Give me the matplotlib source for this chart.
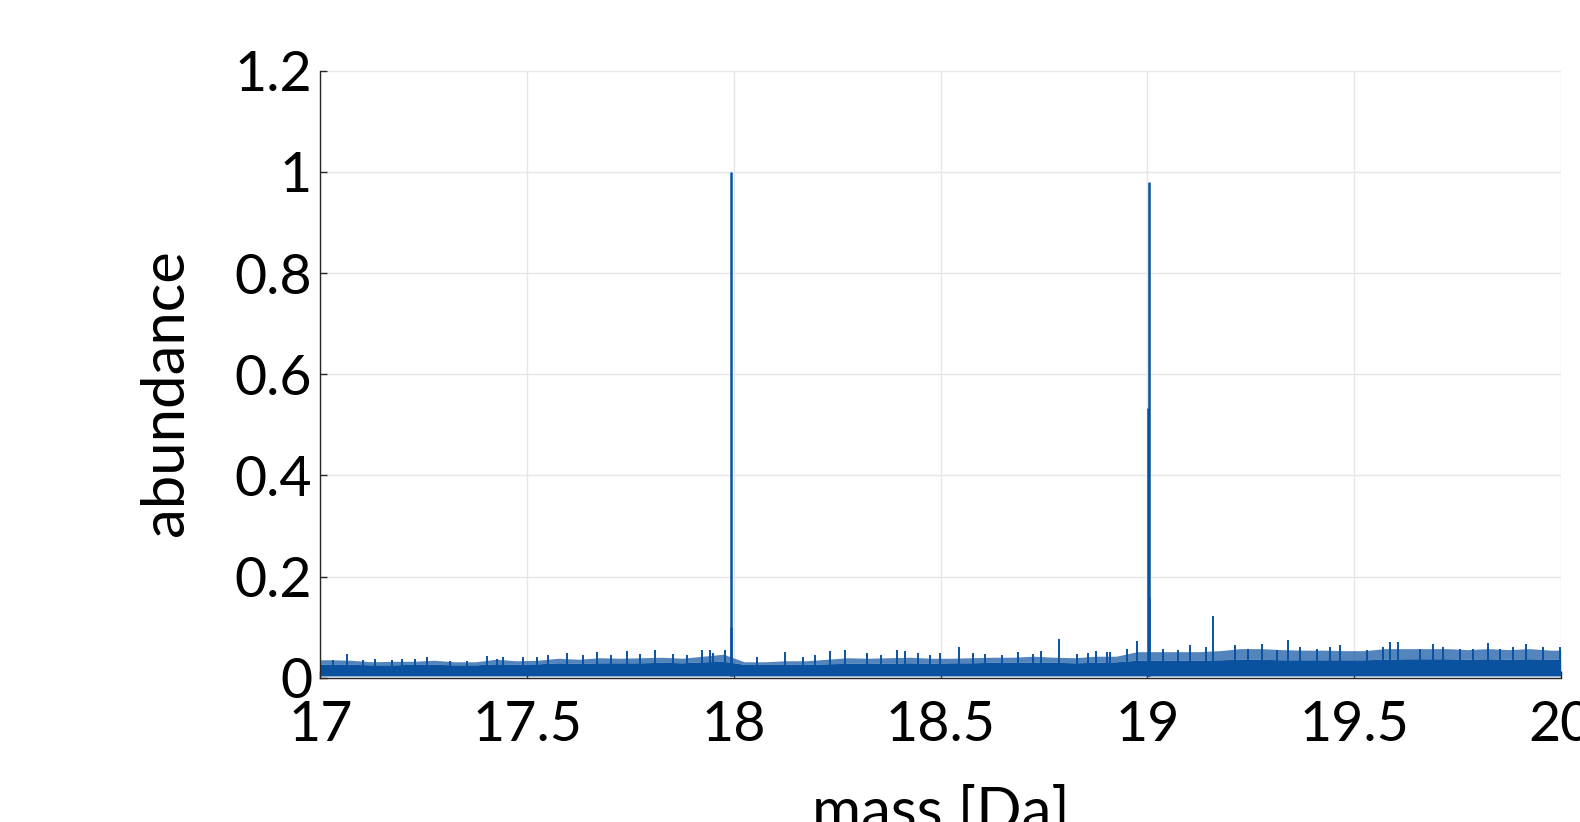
"""
Mass spectrum of the 17-20 Da window (water region)
"""

import matplotlib
matplotlib.use('Agg')
import matplotlib.pyplot as plt
import numpy as np

plt.rcParams['font.family'] = ['Lato', 'DejaVu Sans']

LINE_COLOR = '#0a52a0'

# tick labels
x_ticks = [17, 17.5, 18, 18.5, 19, 19.5, 20]
x_tick_labels = ['17', '17.5', '18', '18.5', '19', '19.5', '20']
y_ticks = [0, 0.2, 0.4, 0.6, 0.8, 1.0, 1.2]
y_tick_labels = ['0', '0.2', '0.4', '0.6', '0.8', '1', '1.2']

# background noise, one value per 0.05 Da bin from 17.00 to 20.00
noise_bin_start = 17.0
noise_bin_width = 0.05
noise_floor = 0.004
noise_core = [
    0.027, 0.027, 0.026, 0.026, 0.027, 0.027, 0.026, 0.026, 0.028, 0.027,
    0.028, 0.030, 0.029, 0.030, 0.030, 0.030, 0.031, 0.030, 0.032, 0.033,
    0.027, 0.027, 0.027, 0.027, 0.028, 0.029, 0.029, 0.029, 0.030, 0.029,
    0.030, 0.030, 0.031, 0.031, 0.031, 0.031, 0.030, 0.031, 0.032, 0.035,
    0.035, 0.035, 0.035, 0.036, 0.037, 0.037, 0.036, 0.036, 0.036, 0.036,
    0.036, 0.037, 0.038, 0.038, 0.038, 0.037, 0.038, 0.037, 0.038, 0.037,
]
noise_top = [
    0.036, 0.035, 0.032, 0.033, 0.033, 0.035, 0.032, 0.032, 0.037, 0.034,
    0.035, 0.039, 0.037, 0.040, 0.039, 0.040, 0.041, 0.039, 0.043, 0.047,
    0.032, 0.032, 0.034, 0.034, 0.037, 0.040, 0.039, 0.040, 0.041, 0.039,
    0.039, 0.040, 0.041, 0.041, 0.043, 0.041, 0.040, 0.043, 0.043, 0.052,
    0.052, 0.052, 0.052, 0.054, 0.058, 0.058, 0.056, 0.055, 0.055, 0.054,
    0.054, 0.058, 0.058, 0.058, 0.058, 0.056, 0.058, 0.056, 0.058, 0.055,
]

# noise spikes standing above the band
spike_mass = [
    17.031, 17.064, 17.104, 17.132, 17.172, 17.197, 17.229, 17.257, 17.313,
    17.354, 17.402, 17.426, 17.442, 17.490, 17.523, 17.551, 17.596, 17.636,
    17.668, 17.704, 17.741, 17.773, 17.809, 17.853, 17.886, 17.922, 17.942,
    17.950, 17.978, 18.055, 18.124, 18.168, 18.196, 18.233, 18.269, 18.321,
    18.357, 18.394, 18.414, 18.446, 18.474, 18.498, 18.545, 18.579, 18.607,
    18.648, 18.688, 18.724, 18.744, 18.786, 18.829, 18.857, 18.877, 18.902,
    18.910, 18.950, 18.974, 19.038, 19.075, 19.103, 19.143, 19.158, 19.212,
    19.244, 19.278, 19.313, 19.341, 19.369, 19.410, 19.442, 19.466, 19.531,
    19.571, 19.588, 19.607, 19.659, 19.691, 19.716, 19.757, 19.789, 19.824,
    19.853, 19.885, 19.917, 19.958, 19.998,
]
spike_height = [
    0.036, 0.047, 0.036, 0.037, 0.036, 0.037, 0.038, 0.041, 0.034,
    0.034, 0.043, 0.038, 0.041, 0.041, 0.041, 0.045, 0.049, 0.045,
    0.051, 0.045, 0.054, 0.047, 0.056, 0.047, 0.045, 0.055, 0.055,
    0.049, 0.056, 0.041, 0.052, 0.041, 0.045, 0.054, 0.055, 0.049,
    0.045, 0.056, 0.054, 0.049, 0.045, 0.050, 0.061, 0.049, 0.047,
    0.045, 0.052, 0.047, 0.054, 0.077, 0.047, 0.049, 0.054, 0.052,
    0.052, 0.058, 0.074, 0.058, 0.055, 0.065, 0.062, 0.122, 0.065,
    0.058, 0.068, 0.055, 0.076, 0.062, 0.058, 0.062, 0.066, 0.055,
    0.062, 0.071, 0.071, 0.058, 0.068, 0.062, 0.058, 0.058, 0.070,
    0.058, 0.062, 0.068, 0.062, 0.062,
]

# main peaks (H2O+ and H3O+) with their shoulders
peak_mass = [17.994, 17.992, 19.003, 19.001, 19.004]
peak_height = [1.000, 0.100, 0.980, 0.534, 0.160]


def plot_spectrum(output_file: str = 'out.png') -> None:
    fig = plt.figure(figsize=(15.8, 8.22), dpi=100)
    ax = fig.add_axes([0.2028, 0.1752, 0.785, 0.739])

    n_bins = len(noise_top)
    bin_centres = noise_bin_start + noise_bin_width * (np.arange(n_bins) + 0.5)
    xs = np.concatenate([[noise_bin_start], bin_centres,
                         [noise_bin_start + noise_bin_width * n_bins]])
    core = np.concatenate([[noise_core[0]], noise_core, [noise_core[-1]]])
    top = np.concatenate([[noise_top[0]], noise_top, [noise_top[-1]]])

    ax.fill_between(xs, core, top, color=LINE_COLOR, alpha=0.7, lw=0)
    ax.fill_between(xs, noise_floor, core, color=LINE_COLOR, lw=0)
    ax.vlines(spike_mass, noise_floor, spike_height, color=LINE_COLOR, lw=1.4)
    ax.vlines(peak_mass, noise_floor, peak_height, color=LINE_COLOR, lw=1.8)

    ax.set_xlim(17, 20)
    ax.set_ylim(0, 1.2)
    ax.set_xticks(x_ticks)
    ax.set_xticklabels(x_tick_labels)
    ax.set_yticks(y_ticks)
    ax.set_yticklabels(y_tick_labels)

    ax.grid(True, color='#e6e6e6', lw=1)
    ax.set_axisbelow(True)
    for side in ('top', 'right'):
        ax.spines[side].set_visible(False)
    for side in ('left', 'bottom'):
        ax.spines[side].set_color('#262626')
        ax.spines[side].set_linewidth(1.0)

    ax.tick_params(axis='both', direction='in', length=5, width=1,
                   color='#262626', labelsize=40, labelcolor='black')
    ax.tick_params(axis='x', pad=16)
    ax.tick_params(axis='y', pad=6)

    ax.set_xlabel('mass [Da]', fontsize=43)
    ax.set_ylabel('abundance', fontsize=43)
    ax.xaxis.set_label_coords(0.5, -0.176)
    ax.yaxis.set_label_coords(-0.103, 0.469)

    fig.savefig(output_file, dpi=100)
    plt.close(fig)


if __name__ == '__main__':
    plot_spectrum()
